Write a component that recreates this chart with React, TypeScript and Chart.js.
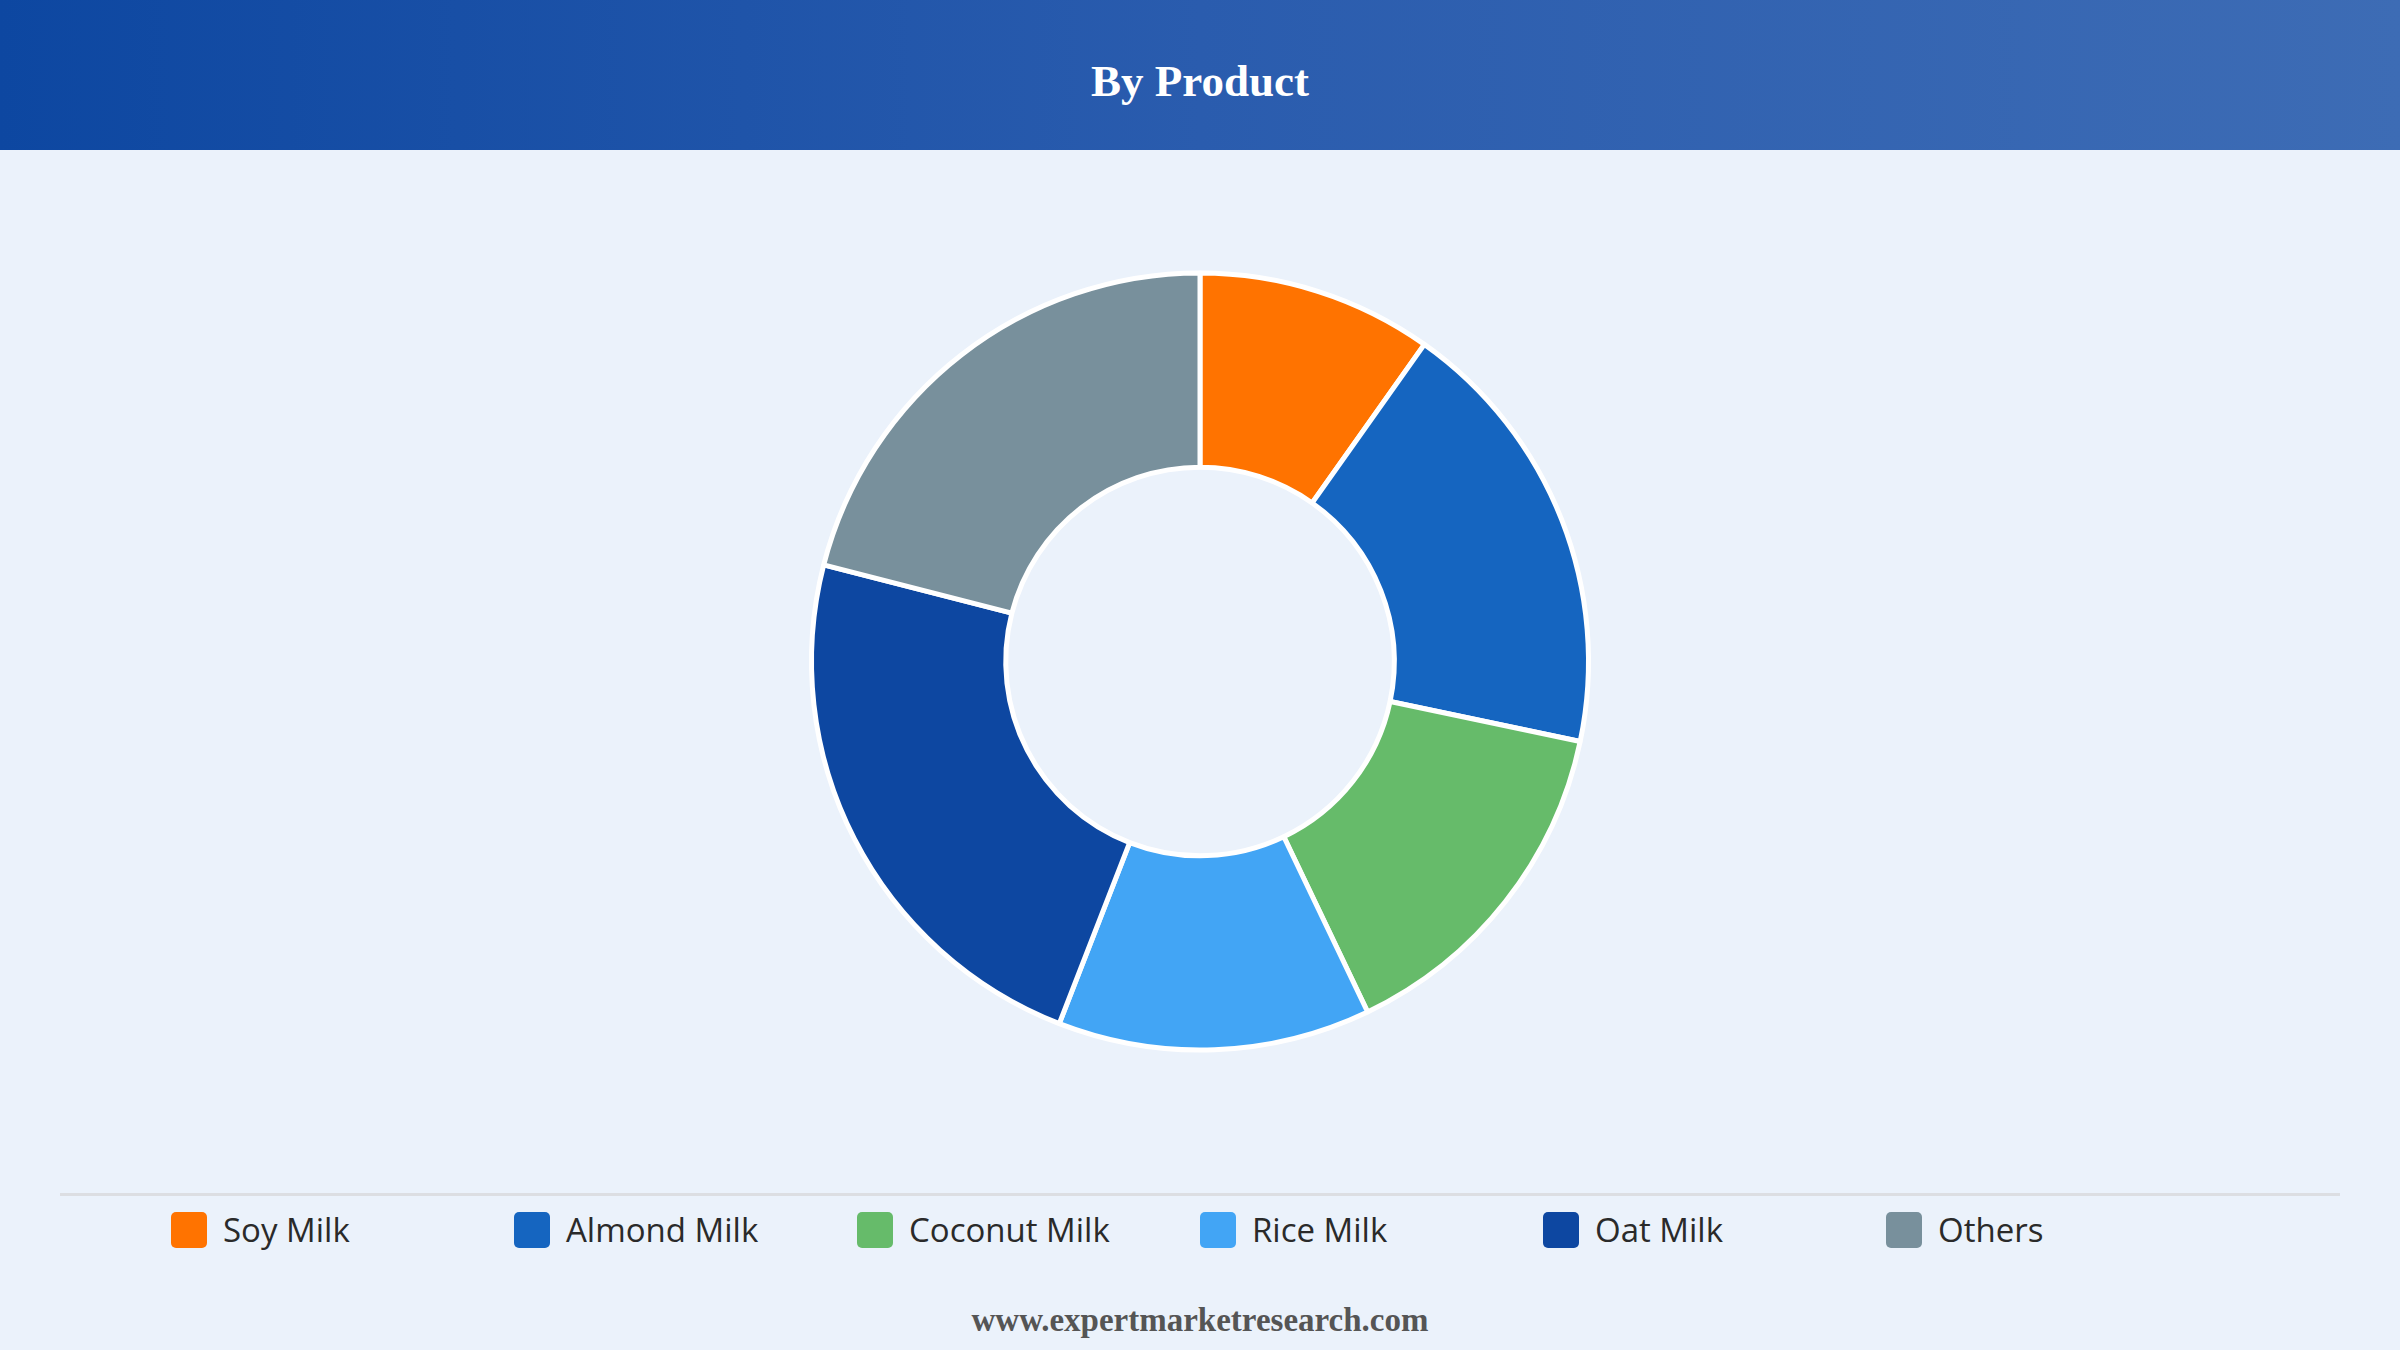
import React, { useEffect, useRef } from "react";
import { Chart, registerables } from "chart.js";

Chart.register(...registerables);

const categories = ["Soy Milk", "Almond Milk", "Coconut Milk", "Rice Milk", "Oat Milk", "Others"];
const shares = [9.8, 18.5, 14.6, 13.0, 23.1, 21.0];
const sliceColors = ["#ff7300", "#1565c0", "#66bb6a", "#42a5f5", "#0d47a1", "#78909c"];
const titleText = "By Product";
const footerText = "www.expertmarketresearch.com";

export default function App() {
  const canvasRef = useRef<HTMLCanvasElement | null>(null);

  useEffect(() => {
    document.body.style.margin = "0";
    const ctx = canvasRef.current;
    if (!ctx) return;
    const chart = new Chart(ctx, {
      type: "doughnut",
      data: {
        labels: categories,
        datasets: [
          {
            data: shares,
            backgroundColor: sliceColors,
            borderColor: "#ffffff",
            borderWidth: 5,
          },
        ],
      },
      options: {
        animation: false,
        responsive: true,
        maintainAspectRatio: false,
        radius: 388.5,
        cutout: "50%",
        plugins: {
          legend: { display: false },
          tooltip: { enabled: false },
          title: { display: false },
        },
      },
    });
    return () => chart.destroy();
  }, []);

  return (
    <div style={{ position: "relative", width: 2400, height: 1350, background: "#ebf2fb", overflow: "hidden" }}>
      <div
        style={{
          position: "absolute",
          left: 0,
          top: 0,
          width: 2400,
          height: 150,
          background: "linear-gradient(90deg, #0d47a1 0%, #2a5cae 50%, #3d6cb5 100%)",
        }}
      />
      <div
        style={{
          position: "absolute",
          left: 0,
          top: 59,
          width: 2400,
          textAlign: "center",
          color: "#ffffff",
          fontFamily: "'Liberation Serif', 'Times New Roman', serif",
          fontWeight: 700,
          fontSize: 45,
          lineHeight: "45px",
        }}
      >
        {titleText}
      </div>
      <div style={{ position: "absolute", left: 0, top: 150, width: 2400, height: 1023 }}>
        <canvas ref={canvasRef} />
      </div>
      <div
        style={{
          position: "absolute",
          left: 60,
          top: 1193,
          width: 2280,
          height: 3,
          background: "#dcdee2",
        }}
      />
      <div
        style={{
          position: "absolute",
          left: 0,
          top: 1212,
          width: 2400,
          height: 36,
          display: "flex",
          justifyContent: "center",
        }}
      >
        {categories.map((c, i) => (
          <div key={c} style={{ width: 343, display: "flex", alignItems: "center", height: 36 }}>
            <div
              style={{
                width: 36,
                height: 36,
                borderRadius: 5,
                background: sliceColors[i],
                marginRight: 16,
                flexShrink: 0,
              }}
            />
            <span
              style={{
                fontFamily: "'Open Sans', 'Noto Sans', sans-serif",
                fontSize: 33,
                color: "#2a2a2a",
                lineHeight: "36px",
                whiteSpace: "nowrap",
              }}
            >
              {c}
            </span>
          </div>
        ))}
      </div>
      <div
        style={{
          position: "absolute",
          left: 0,
          top: 1304,
          width: 2400,
          textAlign: "center",
          color: "#555555",
          fontFamily: "'Liberation Serif', 'Times New Roman', serif",
          fontWeight: 700,
          fontSize: 33,
          lineHeight: "33px",
        }}
      >
        {footerText}
      </div>
    </div>
  );
}
